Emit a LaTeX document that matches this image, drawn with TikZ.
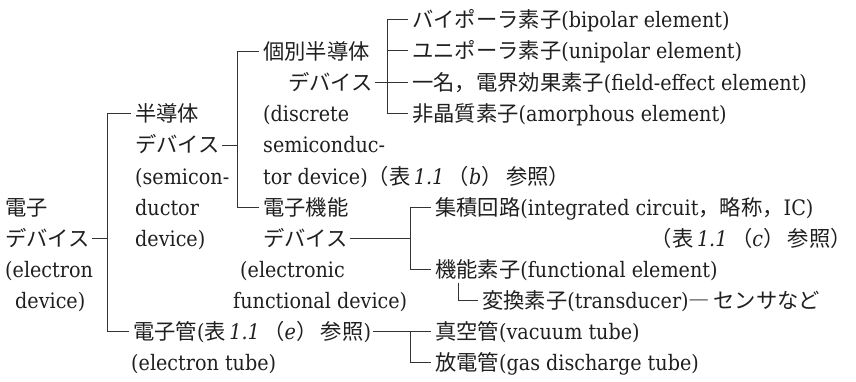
\documentclass[tikz,border=0pt]{standalone}
\usepackage{fontspec}
\setmainfont{DejaVu Serif Condensed}
\newfontfamily\cjk{Noto Sans CJK JP}
\newcommand\jp[1]{{\cjk #1}}
\begin{document}
\begin{tikzpicture}[x=1pt,y=-1pt,
  txt/.style={anchor=west, inner sep=0pt, text height=19pt, text depth=3pt,
    font=\fontsize{21.3}{25}\selectfont, text=black!88},
  ln/.style={line width=0.7pt, draw=black!80}]
\useasboundingbox (0,0) rectangle (856,381);
% rows: r_i = 20.5 + 31.1 i
% column 0
\node[txt] (e0a) at (5,207.1) {\jp{電子}};
\node[txt] (e0b) at (5,238.2) {\jp{デバイス}};
\node[txt] (e0c) at (5,269.3) {(electron};
\node[txt] (e0d) at (15,300.4) {device)};
% column 1
\node[txt] (s1) at (135,113.8) {\jp{半導体}};
\node[txt] (s2) at (135,144.9) {\jp{デバイス}};
\node[txt] (s3) at (135,176) {(semicon-};
\node[txt] (s4) at (135,207.1) {ductor};
\node[txt] (s5) at (135,238.2) {device)};
\node[txt] (t1) at (133,331.5) {\jp{電子管}(\jp{表}\,\textit{1.1}\,\jp{（}\textit{e}\jp{）}\,\jp{参照})};
\node[txt] (t2) at (131,362.6) {(electron tube)};
% column 2
\node[txt] (d1) at (263,51.6) {\jp{個別半導体}};
\node[txt] (d2) at (288,82.7) {\jp{デバイス}};
\node[txt] (d3) at (263,113.8) {(discrete};
\node[txt] (d4) at (263,144.9) {semiconduc-};
\node[txt] (d5) at (263,176) {tor device)\jp{（表}\,\textit{1.1}\,\jp{（}\textit{b}\jp{）}\,\jp{参照）}};
\node[txt] (f1) at (263,207.1) {\jp{電子機能}};
\node[txt] (f2) at (263,238.2) {\jp{デバイス}};
\node[txt] (f3) at (240,269.3) {(electronic};
\node[txt] (f4) at (233,300.4) {functional device)};
% column 3 (top)
\node[txt] (c1) at (412,19.5) {\jp{バイポーラ素子}(bipolar element)};
\node[txt] (c2) at (412,50.6) {\jp{ユニポーラ素子}(unipolar element)};
\node[txt] (c3) at (412,82.2) {\jp{一名，電界効果素子}(field-effect element)};
\node[txt] (c4) at (412,113.8) {\jp{非晶質素子}(amorphous element)};
% column 3 (lower)
\node[txt] (g1) at (435,207.1) {\jp{集積回路}(integrated circuit\jp{，略称，}IC)};
\node[txt,anchor=east] (g2) at (852,238.2) {\jp{（表}\,\textit{1.1}\,\jp{（}\textit{c}\jp{）}\,\jp{参照）}};
\node[txt] (g3) at (435,269.3) {\jp{機能素子}(functional element)};
\node[txt] (h1) at (482,300.4) {\jp{変換素子}(transducer)\jp{―}\,\jp{センサなど}};
\node[txt] (v1) at (435,331.5) {\jp{真空管}(vacuum tube)};
\node[txt] (v2) at (435,362.6) {\jp{放電管}(gas discharge tube)};
% bracket positions
\coordinate (A) at (107,0);
\coordinate (B) at (237,0);
\coordinate (C) at (387,0);
\coordinate (D) at (410,0);
\coordinate (E) at (410,0);
\coordinate (F) at (458,0);
% bracket A
\draw[ln] ([xshift=-4pt]s1.west) -- (s1.west -| A) -- (t1.west -| A) -- ([xshift=-4pt]t1.west);
\draw[ln] ([xshift=2pt]e0b.east) -- (e0b.east -| A);
% bracket B
\draw[ln] ([xshift=-4pt]d1.west) -- (d1.west -| B) -- (f1.west -| B) -- ([xshift=-4pt]f1.west);
\draw[ln] ([xshift=2pt]s2.east) -- (s2.east -| B);
% bracket C
\draw[ln] ([xshift=-4pt]c1.west) -- (c1.west -| C) -- (c4.west -| C) -- ([xshift=-4pt]c4.west);
\draw[ln] ([xshift=-4pt]c2.west) -- (c2.west -| C);
\draw[ln] ([xshift=-4pt]c3.west) -- (c3.west -| C);
\draw[ln] ([xshift=2pt]d2.east) -- (d2.east -| C);
% bracket D
\draw[ln] ([xshift=-4pt]g1.west) -- (g1.west -| D) -- (g3.west -| D) -- ([xshift=-4pt]g3.west);
\draw[ln] ([xshift=2pt]f2.east) -- (f2.east -| D);
% sub bracket F
\draw[ln] ([yshift=-2pt]g3.south -| F) -- (h1.west -| F) -- ([xshift=-4pt]h1.west);
% bracket E
\draw[ln] ([xshift=2pt]t1.east) -- ([xshift=-4pt]v1.west);
\draw[ln] (v1.west -| E) -- (v2.west -| E) -- ([xshift=-4pt]v2.west);
\end{tikzpicture}
\end{document}
